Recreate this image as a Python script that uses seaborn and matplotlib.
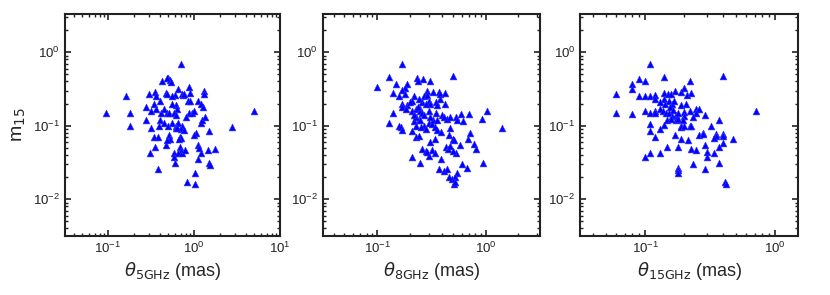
import matplotlib
matplotlib.use("Agg")
import matplotlib.pyplot as plt
import matplotlib.ticker as mticker
import seaborn as sns
import pandas as pd

# angular size (mas) vs modulation index m15, three frequencies
theta_5 = [0.70, 0.50, 0.52, 0.54, 0.49, 0.43, 0.88, 1.3, 1.32, 0.65, 0.9, 0.35, 0.30,
           0.47, 0.49, 0.72, 0.74, 0.76, 0.60, 0.36, 0.40, 0.55, 1.1, 1.2, 1.28, 0.85,
           0.89, 0.34, 0.62, 0.64, 0.16, 0.096, 0.18, 0.18, 5.0, 2.8, 0.28, 0.32, 0.36,
           0.41, 0.49, 0.51, 0.59, 0.87, 0.96, 1.0, 0.28, 0.40, 0.45, 0.50, 0.56, 0.62,
           0.65, 0.72, 0.71, 1.2, 1.25, 1.35, 0.39, 0.32, 0.62, 0.64, 0.76, 1.5, 1.05,
           1.0, 0.34, 0.38, 0.51, 0.52, 0.69, 0.71, 0.67, 0.47, 0.49, 1.1, 1.15, 0.35,
           0.69, 0.71, 0.59, 0.65, 0.72, 0.78, 1.2, 1.45, 1.75, 0.31, 0.58, 1.12, 0.60,
           1.5, 1.55, 0.38, 1.02, 0.84, 1.02, 0.55, 0.45, 0.62, 0.80]
m15_5 = [0.70, 0.45, 0.42, 0.39, 0.44, 0.40, 0.34, 0.30, 0.27, 0.32, 0.28, 0.29, 0.27,
         0.28, 0.27, 0.27, 0.26, 0.27, 0.26, 0.25, 0.22, 0.25, 0.22, 0.20, 0.18, 0.22,
         0.22, 0.20, 0.19, 0.17, 0.25, 0.15, 0.15, 0.10, 0.16, 0.096, 0.18, 0.16, 0.17,
         0.15, 0.15, 0.15, 0.147, 0.15, 0.147, 0.16, 0.12, 0.12, 0.11, 0.10, 0.11, 0.10,
         0.11, 0.10, 0.09, 0.11, 0.12, 0.13, 0.10, 0.093, 0.094, 0.092, 0.087, 0.085, 0.08,
         0.075, 0.07, 0.07, 0.075, 0.066, 0.07, 0.068, 0.066, 0.055, 0.063, 0.055, 0.05, 0.051,
         0.051, 0.046, 0.043, 0.042, 0.042, 0.047, 0.042, 0.047, 0.048, 0.042, 0.037, 0.035, 0.031,
         0.031, 0.029, 0.026, 0.023, 0.017, 0.016, 0.20, 0.17, 0.14, 0.13]

theta_8 = [0.10, 0.13, 0.17, 0.149, 0.19, 0.18, 0.17, 0.235, 0.24, 0.265, 0.305, 0.50,
           0.14, 0.16, 0.18, 0.22, 0.21, 0.29, 0.28, 0.27, 0.29, 0.33, 0.37, 0.38, 0.42,
           0.17, 0.17, 0.19, 0.185, 0.14, 0.21, 0.23, 0.245, 0.25, 0.20, 0.26, 0.245, 0.30,
           0.31, 0.28, 0.35, 0.36, 0.38, 0.42, 0.35, 0.40, 0.41, 0.44, 0.47, 0.53, 0.55,
           0.59, 0.62, 0.71, 1.03, 0.93, 1.42, 0.13, 0.16, 0.165, 0.17, 0.22, 0.23, 0.21,
           0.245, 0.27, 0.255, 0.30, 0.32, 0.34, 0.36, 0.39, 0.47, 0.46, 0.50, 0.51, 0.72,
           0.78, 0.81, 0.69, 0.58, 0.43, 0.45, 0.47, 0.53, 0.50, 0.23, 0.245, 0.34, 0.31,
           0.26, 0.28, 0.30, 0.29, 0.32, 0.34, 0.21, 0.25, 0.39, 0.61, 0.67, 0.94, 0.375,
           0.41, 0.44, 0.54, 0.52, 0.51, 0.49, 0.52, 0.46, 0.26, 0.27, 0.23, 0.33, 0.24,
           0.22, 0.30, 0.36, 0.31, 0.25, 0.28]
m15_8 = [0.34, 0.46, 0.70, 0.37, 0.37, 0.33, 0.31, 0.45, 0.40, 0.43, 0.40, 0.47,
         0.28, 0.25, 0.27, 0.25, 0.22, 0.30, 0.27, 0.25, 0.26, 0.29, 0.29, 0.27, 0.28,
         0.20, 0.18, 0.19, 0.17, 0.15, 0.16, 0.17, 0.18, 0.16, 0.21, 0.21, 0.23, 0.22,
         0.20, 0.20, 0.21, 0.19, 0.23, 0.20, 0.15, 0.14, 0.13, 0.125, 0.13, 0.13, 0.12,
         0.145, 0.115, 0.145, 0.16, 0.125, 0.094, 0.11, 0.10, 0.096, 0.088, 0.115, 0.10, 0.086,
         0.118, 0.10, 0.095, 0.11, 0.107, 0.095, 0.087, 0.083, 0.094, 0.075, 0.067, 0.064, 0.08,
         0.057, 0.048, 0.067, 0.055, 0.052, 0.048, 0.053, 0.042, 0.046, 0.07, 0.072, 0.067, 0.061,
         0.048, 0.046, 0.039, 0.044, 0.047, 0.043, 0.037, 0.031, 0.035, 0.030, 0.027, 0.031, 0.026,
         0.024, 0.026, 0.023, 0.020, 0.016, 0.019, 0.017, 0.020, 0.15, 0.14, 0.13, 0.12, 0.18,
         0.14, 0.16, 0.12, 0.13, 0.12, 0.09]

theta_15 = [0.11, 0.09, 0.10, 0.08, 0.08, 0.14, 0.22, 0.40, 0.06, 0.06, 0.08, 0.09,
            0.10, 0.11, 0.12, 0.14, 0.15, 0.158, 0.17, 0.19, 0.20, 0.21, 0.225, 0.12,
            0.14, 0.143, 0.152, 0.16, 0.168, 0.19, 0.205, 0.10, 0.11, 0.12, 0.12, 0.13,
            0.137, 0.145, 0.152, 0.162, 0.172, 0.18, 0.20, 0.22, 0.245, 0.26, 0.245, 0.235,
            0.29, 0.148, 0.158, 0.172, 0.18, 0.20, 0.195, 0.14, 0.13, 0.19, 0.19, 0.20,
            0.22, 0.224, 0.11, 0.11, 0.12, 0.17, 0.19, 0.215, 0.26, 0.28, 0.28, 0.32,
            0.35, 0.355, 0.34, 0.37, 0.40, 0.40, 0.40, 0.37, 0.48, 0.72, 0.148, 0.178,
            0.224, 0.245, 0.29, 0.34, 0.30, 0.30, 0.13, 0.11, 0.10, 0.235, 0.178, 0.178,
            0.178, 0.29, 0.37, 0.41, 0.42, 0.155, 0.165, 0.13]
m15_15 = [0.70, 0.43, 0.40, 0.375, 0.32, 0.46, 0.40, 0.47, 0.27, 0.15, 0.145, 0.25,
          0.25, 0.25, 0.26, 0.28, 0.27, 0.27, 0.30, 0.29, 0.33, 0.26, 0.28, 0.23,
          0.23, 0.20, 0.22, 0.20, 0.22, 0.19, 0.20, 0.16, 0.15, 0.16, 0.15, 0.17,
          0.16, 0.15, 0.15, 0.135, 0.14, 0.147, 0.155, 0.16, 0.17, 0.17, 0.147, 0.13,
          0.14, 0.12, 0.122, 0.12, 0.125, 0.134, 0.12, 0.103, 0.09, 0.10, 0.095, 0.098,
          0.10, 0.10, 0.104, 0.085, 0.07, 0.075, 0.067, 0.064, 0.075, 0.08, 0.077, 0.10,
          0.077, 0.073, 0.068, 0.12, 0.078, 0.073, 0.059, 0.051, 0.067, 0.16, 0.052, 0.051,
          0.048, 0.047, 0.055, 0.042, 0.044, 0.038, 0.042, 0.042, 0.037, 0.030, 0.027, 0.025,
          0.023, 0.026, 0.031, 0.017, 0.016, 0.18, 0.165, 0.21]

panels = [
    (theta_5, m15_5, r"$\theta_{\mathrm{5GHz}}$ (mas)", (10**-1.5, 10**1.0)),
    (theta_8, m15_8, r"$\theta_{\mathrm{8GHz}}$ (mas)", (10**-1.5, 10**0.5)),
    (theta_15, m15_15, r"$\theta_{\mathrm{15GHz}}$ (mas)", (10**-1.5, 10**0.18)),
]

sns.set_style("ticks", {
    "xtick.direction": "in", "ytick.direction": "in",
    "xtick.top": True, "ytick.right": True,
    "xtick.bottom": True, "ytick.left": True,
    "axes.edgecolor": "#222222", "xtick.color": "#222222", "ytick.color": "#222222",
})
plt.rcParams["font.family"] = ["Liberation Sans", "DejaVu Sans"]
plt.rcParams["mathtext.fontset"] = "dejavusans"
plt.rcParams.update({
    "xtick.major.size": 4.5, "ytick.major.size": 4.5,
    "xtick.minor.size": 2.5, "ytick.minor.size": 2.5,
    "xtick.major.width": 1.2, "ytick.major.width": 1.2,
    "xtick.minor.width": 1.0, "ytick.minor.width": 1.0,
    "xtick.minor.visible": True, "ytick.minor.visible": True,
})

fig = plt.figure(figsize=(8.3, 2.95), dpi=100)
lefts = [0.0783, 0.389, 0.699]
widths = [0.259, 0.2614, 0.2627]

for i, (xs, ys, xlabel, xlim) in enumerate(panels):
    ax = fig.add_axes([lefts[i], 0.2, widths[i], 0.7525])
    df = pd.DataFrame({"theta": xs, "m15": ys})
    sns.scatterplot(data=df, x="theta", y="m15", ax=ax, marker="^", color="blue",
                    s=24, edgecolor="#3333ff", linewidth=0.4, zorder=3)
    ax.set_xscale("log")
    ax.set_yscale("log")
    ax.set_xlim(*xlim)
    ax.set_ylim(10**-2.5, 10**0.52)
    for axis in (ax.xaxis, ax.yaxis):
        axis.set_major_locator(mticker.LogLocator(base=10, numticks=20))
        axis.set_minor_locator(mticker.LogLocator(base=10, subs=range(2, 10), numticks=100))
        axis.set_minor_formatter(mticker.NullFormatter())
    ax.set_xlabel(xlabel, fontsize=13, labelpad=3)
    if i == 0:
        ax.set_ylabel(r"m$_{15}$", fontsize=14, labelpad=4)
    else:
        ax.set_ylabel("")
    ax.tick_params(which="both", direction="in", top=True, right=True,
                   bottom=True, left=True, labelsize=9.5, labelcolor="#222222")
    for sp in ax.spines.values():
        sp.set_linewidth(1.5)

fig.savefig("out.png", dpi=100)
